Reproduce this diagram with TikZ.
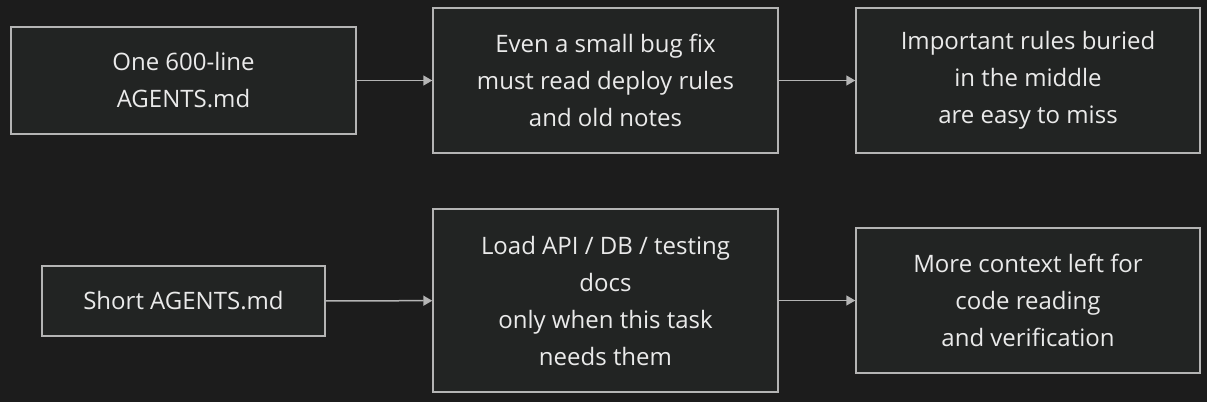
\documentclass[tikz,border=0pt]{standalone}
\usepackage{fontspec}
\setmainfont{Open Sans}
\usetikzlibrary{arrows.meta}
\definecolor{bg}{HTML}{1C1C1C}
\definecolor{boxfill}{HTML}{222423}
\definecolor{edge}{HTML}{B4B4B4}
\definecolor{txt}{HTML}{EAEAEA}
\tikzset{
  box/.style={draw=edge,line width=1.5pt,fill=boxfill,text=txt,align=center,inner sep=0pt,
    font=\fontsize{24}{37}\selectfont},
  conn/.style={draw=edge,line width=1.5pt,-{Triangle[length=9pt,width=10pt]}}
}
\begin{document}
\begin{tikzpicture}[x=1pt,y=-1pt]
\fill[bg] (0,0) rectangle (1207,402);
\useasboundingbox (0,0) rectangle (1207,402);
\node[box,minimum width=345pt,minimum height=107pt] (a1) at (183.5,80.5) {\raisebox{-2pt}{\shortstack{}}One 600-line\\AGENTS.md};
\node[box,minimum width=345pt,minimum height=145pt] (a2) at (605.5,80.5) {Even a small bug fix\\must read deploy rules\\and old notes};
\node[box,minimum width=344pt,minimum height=145pt] (a3) at (1028,80.5) {Important rules buried\\in the middle\\are easy to miss};
\node[box,minimum width=283pt,minimum height=70pt] (b1) at (183.5,301) {Short AGENTS.md};
\node[box,minimum width=345pt,minimum height=183pt] (b2) at (605.5,300.5) {Load API / DB / testing\\docs\\only when this task\\needs them};
\node[box,minimum width=344pt,minimum height=145pt] (b3) at (1028,300.5) {More context left for\\code reading\\and verification};
\draw[conn] (a1) -- (a2);
\draw[conn] (a2) -- (a3);
\draw[conn] (b1) -- (b2);
\draw[conn] (b2) -- (b3);
\end{tikzpicture}
\end{document}
